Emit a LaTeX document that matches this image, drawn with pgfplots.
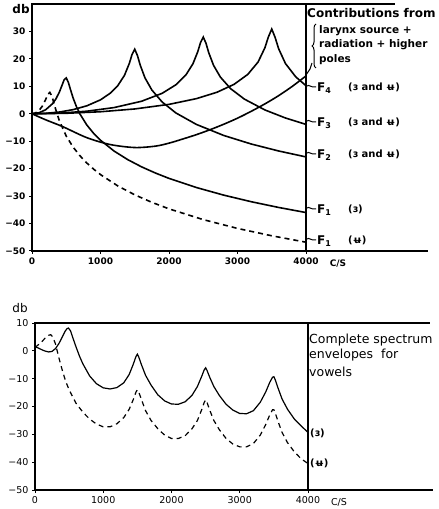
\documentclass[border=0pt]{standalone}
\usepackage{fontspec}
\setmainfont{DejaVu Sans}
\usepackage{pgfplots}
\pgfplotsset{compat=1.18}
\usetikzlibrary{decorations.pathreplacing}
\begin{document}
\begin{tikzpicture}[x=1pt,y=1pt]
\path[use as bounding box] (0,0) rectangle (439,509);
% ---------------- top panel ----------------
\begin{axis}[
  at={(32pt,258pt)}, anchor=south west,
  scale only axis, width=274pt, height=247pt,
  xmin=0, xmax=4000, ymin=-50, ymax=40,
  xtick={0,1000,2000,3000,4000},
  xticklabels={0,1000,2000,3000,4000},
  ytick={-50,-40,-30,-20,-10,0,10,20,30},
  yticklabels={−50,−40,−30,−20,−10,0,10,20,30},
  tick label style={font=\bfseries\fontsize{9}{10}\selectfont},
  tick align=outside, xtick pos=bottom, ytick pos=left,
  major tick length=3pt,
  tick style={line width=1pt,black},
  axis line style={line width=1.3pt},
  clip=false, scaled x ticks=false,
]
% larynx source + radiation + higher poles
\addplot[black, line width=1.6pt, smooth] coordinates {
(0,0)(200,-2.2)(450,-4.7)(800,-8.7)(1140,-11.2)(1500,-12.3)(1800,-11.8)(2000,-10.7)
(2200,-9.2)(2400,-7.6)(2600,-5.8)(2800,-3.8)(3000,-1.6)(3200,0.9)(3400,3.6)(3600,6.6)(3800,10)(4000,13.8)};
% F1 (first vowel)
\addplot[black, line width=1.6pt] coordinates {
(0,0)(100,0.35)(200,1.47)(300,3.69)(350,5.46)(400,7.93)(440,10.5)(470,12.43)(500,13.06)
(530,11.5)(560,8.97)(600,5.77)(650,2.52)(700,-0.08)(800,-4.08)(900,-7.14)(1000,-9.64)
(1200,-13.61)(1400,-16.74)(1600,-19.34)(1800,-21.57)(2000,-23.54)(2400,-26.87)(2800,-29.65)
(3200,-32.04)(3600,-34.13)(4000,-35.99)};
% F1 (second vowel), dashed
\addplot[black, line width=1.6pt, dash pattern=on 5pt off 4pt] coordinates {
(0,0)(50,0.28)(100,1.15)(150,2.74)(200,5.24)(230,6.96)(260,7.79)(290,6.5)(320,3.9)(360,0.39)
(400,-2.57)(500,-8.13)(600,-12.14)(700,-15.3)(800,-17.93)(900,-20.18)(1000,-22.15)(1250,-26.25)
(1500,-29.53)(1750,-32.27)(2000,-34.64)(2500,-38.57)(3000,-41.77)(3500,-44.46)(4000,-46.8)};
% F2
\addplot[black, line width=1.6pt] coordinates {
(0,0)(200,0.16)(400,0.64)(600,1.51)(800,2.9)(1000,5.08)(1150,7.63)(1250,10.16)(1350,14.01)
(1420,18.31)(1460,21.56)(1500,23.52)(1540,21.18)(1580,17.72)(1650,13.05)(1750,8.65)(1900,4.29)
(2100,0.31)(2400,-3.88)(2800,-7.91)(3200,-11.01)(3600,-13.55)(4000,-15.72)};
% F3
\addplot[black, line width=1.6pt] coordinates {
(0,0)(400,0.23)(800,0.94)(1200,2.27)(1600,4.57)(1900,7.46)(2100,10.56)(2250,14.27)(2350,18.25)
(2420,22.62)(2460,25.93)(2500,27.96)(2540,25.7)(2580,22.27)(2650,17.67)(2750,13.37)(2900,9.15)
(3100,5.35)(3400,1.4)(3700,-1.53)(4000,-3.87)};
% F4
\addplot[black, line width=1.6pt] coordinates {
(0,0)(500,0.18)(1000,0.74)(1500,1.76)(2000,3.43)(2400,5.52)(2700,7.84)(2950,10.73)(3150,14.35)
(3300,18.84)(3400,24.05)(3450,27.96)(3500,30.88)(3550,27.77)(3600,23.74)(3700,18.31)(3850,13.46)(4000,10.23)};
% frame extensions
\draw[line width=1.3pt] (rel axis cs:1,1) -- ++(89pt,0pt);
\draw[line width=1.3pt] (rel axis cs:1,0) -- ++(122pt,0pt);
\end{axis}
\node[font=\bfseries\fontsize{12}{13}\selectfont] at (21,500) {db};
\node[font=\bfseries\fontsize{9}{10}\selectfont] at (338,245) {C/S};
\node[anchor=west, font=\bfseries\fontsize{12}{13}\selectfont, inner sep=0] at (307,496) {Contributions from};
\draw[decorate, decoration={brace, amplitude=4pt}, line width=1pt] (316,441) -- (316,485);
\node[anchor=west, font=\bfseries\fontsize{10.5}{11}\selectfont, inner sep=0] at (319,478) {larynx source +};
\node[anchor=west, font=\bfseries\fontsize{10.5}{11}\selectfont, inner sep=0] at (319,464) {radiation + higher};
\node[anchor=west, font=\bfseries\fontsize{10.5}{11}\selectfont, inner sep=0] at (319,449) {poles};
\draw[line width=1pt] (306,434) -- (310,440) -- (312,446);
% F labels
\foreach \yy/\nn/\lab in {422/4/{(ɜ and ʉ)}, 387/3/{(ɜ and ʉ)}, 355/2/{(ɜ and ʉ)}, 300/1/{(ɜ)}, 269/1/{(ʉ)}}{
  \draw[line width=1pt] (307,\yy+1) .. controls (309,\yy+3) and (311,\yy-1) .. (316,\yy);
  \node[anchor=west, inner sep=0, font=\bfseries\fontsize{12}{13}\selectfont] at (317,\yy-1) {F\textsubscript{\nn}};
  \node[anchor=west, inner sep=0, font=\bfseries\fontsize{10}{11}\selectfont] at (348,\yy) {\lab};
}
% ---------------- bottom panel ----------------
\begin{axis}[
  at={(35pt,19pt)}, anchor=south west,
  scale only axis, width=273pt, height=167pt,
  xmin=0, xmax=4000, ymin=-50, ymax=10,
  xtick={0,1000,2000,3000,4000},
  xticklabels={0,1000,2000,3000,4000},
  ytick={-50,-40,-30,-20,-10,0,10},
  yticklabels={−50,−40,−30,−20,−10,0,10},
  tick label style={font=\fontsize{9.5}{10}\selectfont},
  tick align=outside, xtick pos=bottom, ytick pos=left,
  major tick length=3pt,
  tick style={line width=0.8pt,black},
  axis line style={line width=1.1pt},
  clip=false, scaled x ticks=false,
]
\addplot[black, line width=1.2pt] coordinates {
(0,1.5)(50,1.0)(100,0.4)(150,-0.1)(200,-0.4)(250,-0.2)(300,0.8)(350,2.6)(400,5.0)(440,7.0)
(470,8.0)(490,8.2)(520,7.2)(550,5.0)(600,1.5)(650,-1.8)(700,-4.6)(800,-9.0)(900,-11.8)
(1000,-13.3)(1100,-13.7)(1200,-13.2)(1300,-11.5)(1380,-8.5)(1440,-4.8)(1480,-2)(1500,-1.2)
(1520,-2.2)(1560,-5)(1620,-8.8)(1700,-12.3)(1800,-15.8)(1900,-18)(2000,-19.1)(2100,-19.2)
(2200,-18.3)(2300,-16)(2380,-12.8)(2440,-9.3)(2480,-6.8)(2500,-6.1)(2520,-7)(2560,-9.5)
(2620,-12.8)(2700,-16)(2800,-19.2)(2900,-21.3)(3000,-22.5)(3100,-22.6)(3200,-21.5)(3300,-18.5)
(3380,-14.8)(3440,-11.3)(3480,-9.5)(3500,-9.3)(3520,-10.4)(3560,-13.3)(3620,-17.3)(3700,-21)
(3800,-24.5)(3900,-27)(4000,-29.3)};
\addplot[black, line width=1.2pt, dash pattern=on 5pt off 4pt] coordinates {
(0,1.2)(50,2.2)(100,3.3)(150,4.6)(200,5.6)(230,5.8)(260,5.0)(300,2.5)(350,-2.5)(400,-7)
(450,-11)(500,-14)(600,-18.8)(700,-22)(800,-24.5)(900,-26.3)(1000,-27.3)(1100,-27.3)
(1200,-26.2)(1300,-24)(1380,-21)(1440,-17.5)(1480,-14.8)(1500,-14)(1520,-14.8)(1560,-17.5)
(1620,-21.5)(1700,-25)(1800,-28)(1900,-30.3)(2000,-31.5)(2100,-31.5)(2200,-30.5)(2300,-28)
(2380,-25)(2440,-21.3)(2480,-18.5)(2500,-17.6)(2520,-18.5)(2560,-21.3)(2620,-25)(2700,-28.3)
(2800,-31.5)(2900,-33.5)(3000,-34.5)(3100,-34.5)(3200,-33.3)(3300,-30.3)(3380,-26.5)(3440,-23)
(3480,-21.2)(3500,-21.2)(3520,-22.3)(3560,-25.3)(3620,-29.3)(3700,-33)(3800,-36.3)(3900,-38.8)(4000,-40.5)};
\draw[line width=1.1pt] (rel axis cs:1,1) -- ++(122pt,0pt);
\draw[line width=1.1pt] (rel axis cs:1,0) -- ++(125pt,0pt);
\end{axis}
\node[font=\fontsize{12}{13}\selectfont] at (20,201) {db};
\node[font=\fontsize{9.5}{10}\selectfont] at (339,7) {C/S};
\node[anchor=west, inner sep=0, font=\fontsize{12.5}{13}\selectfont] at (309,169) {Complete spectrum};
\node[anchor=west, inner sep=0, font=\fontsize{12.5}{13}\selectfont] at (309,154) {envelopes\ \ for};
\node[anchor=west, inner sep=0, font=\fontsize{12.5}{13}\selectfont] at (309,137) {vowels};
\node[anchor=west, inner sep=0, font=\bfseries\fontsize{10}{11}\selectfont] at (310,76) {(ɜ)};
\node[anchor=west, inner sep=0, font=\bfseries\fontsize{10}{11}\selectfont] at (310,46) {(ʉ)};
\end{tikzpicture}
\end{document}
